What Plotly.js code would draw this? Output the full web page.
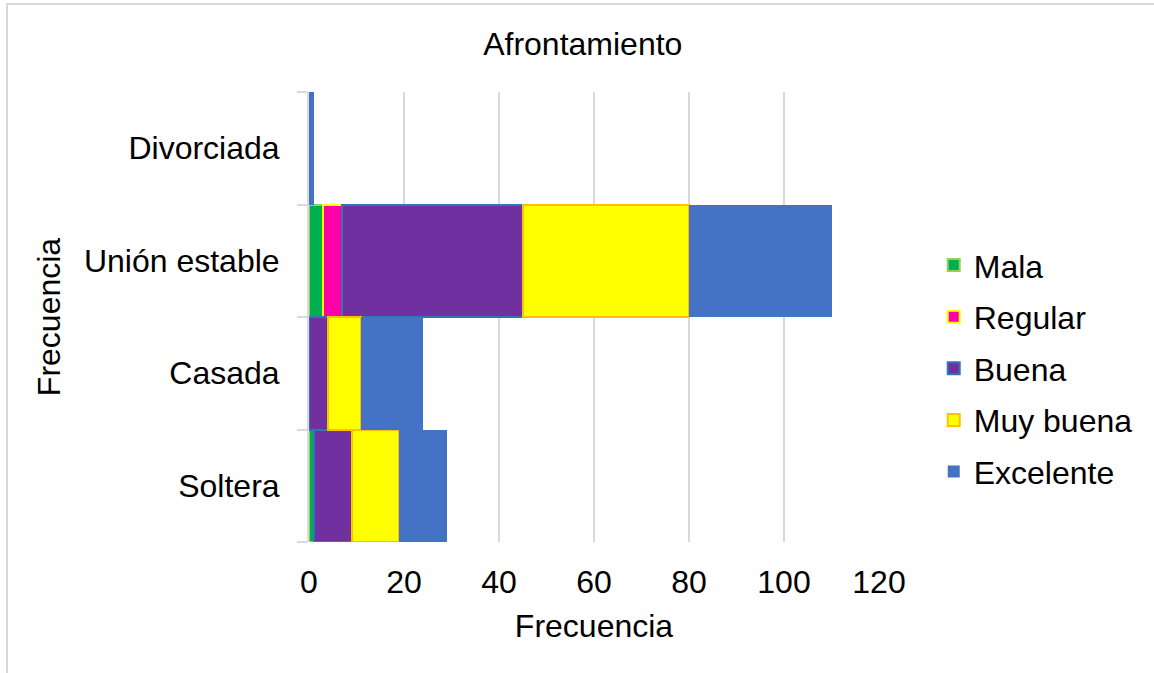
<!DOCTYPE html>
<html>
<head>
<meta charset="utf-8">
<script src="https://cdn.plot.ly/plotly-3.0.1.min.js"></script>
<style>
  html, body { margin: 0; padding: 0; background: #ffffff; overflow: hidden; }
  #frame { position: absolute; left: 6px; top: 3px; width: 1170px; height: 700px; border: 1px solid #d9d9d9; border-width: 2px 2px 2px 2px; }
  #chart { position: absolute; left: 0; top: 0; width: 1154px; height: 673px; }
</style>
</head>
<body>
<div id="frame"></div>
<div id="chart"></div>
<script>
const categories = ["Soltera", "Casada", "Unión estable", "Divorciada"];
const seriesNames = ["Mala", "Regular", "Buena", "Muy buena", "Excelente"];
const mala      = [1, 0, 3, 0];
const regular   = [0, 0, 4, 0];
const buena     = [8, 4, 38, 0];
const muyBuena  = [10, 7, 35, 0];
const excelente = [10, 13, 30, 1];
const xTicks = [0, 20, 40, 60, 80, 100, 120];

const values = [mala, regular, buena, muyBuena, excelente];
const fills   = ["#00B050", "#FF00A8", "#7030A0", "#FFFF00", "#4472C4"];
const borders = ["#92D050", "#FFFF00", "#2E75B6", "#FFC000", "#4472C4"];
const borderW = [2, 2, 2, 2, 0];

const font = "Arial, 'Liberation Sans', sans-serif";
const fs = 32;

const traces = seriesNames.map((name, i) => ({
  type: "bar",
  orientation: "h",
  name: name,
  legendgroup: name,
  y: categories,
  x: values[i],
  marker: { color: fills[i], line: { color: borders[i], width: borderW[i] } },
  hoverinfo: "x+name"
}));

const layout = {
  width: 1154,
  height: 673,
  paper_bgcolor: "rgba(0,0,0,0)",
  plot_bgcolor: "rgba(0,0,0,0)",
  barmode: "stack",
  bargap: 0,
  margin: { l: 309, r: 275, t: 92, b: 131 },
  font: { family: font, size: fs, color: "#000000" },
  title: {
    text: "Afrontamiento",
    font: { family: font, size: fs, color: "#000000" },
    x: 0.505, xref: "container", xanchor: "center",
    y: 0.935, yref: "container", yanchor: "middle"
  },
  xaxis: {
    range: [0, 120],
    tickvals: xTicks,
    ticktext: xTicks.map(String),
    showgrid: true,
    gridcolor: "#d9d9d9",
    gridwidth: 1.5,
    zeroline: false,
    showline: false,
    ticks: "",
    ticklabelstandoff: 18,
    tickfont: { family: font, size: fs, color: "#000000" },
    title: { text: "Frecuencia", font: { family: font, size: fs, color: "#000000" }, standoff: 15 }
  },
  yaxis: {
    type: "category",
    categoryorder: "array",
    categoryarray: categories,
    showgrid: false,
    zeroline: false,
    showline: true,
    linecolor: "#d9d9d9",
    linewidth: 2,
    ticks: "outside",
    tickson: "boundaries",
    ticklen: 10,
    tickwidth: 2,
    tickcolor: "#d9d9d9",
    ticklabelstandoff: 21,
    tickfont: { family: font, size: fs, color: "#000000" },
    title: { text: "Frecuencia", font: { family: font, size: fs, color: "#000000" }, standoff: 14 }
  },
  showlegend: true,
  legend: {
    x: 1.096, xanchor: "left",
    y: 0.386, yanchor: "middle",
    traceorder: "grouped",
    tracegroupgap: 7,
    font: { family: font, size: fs, color: "#000000" },
    bgcolor: "rgba(0,0,0,0)"
  }
};

Plotly.newPlot("chart", traces, layout, { displayModeBar: false, staticPlot: true });
</script>
</body>
</html>
